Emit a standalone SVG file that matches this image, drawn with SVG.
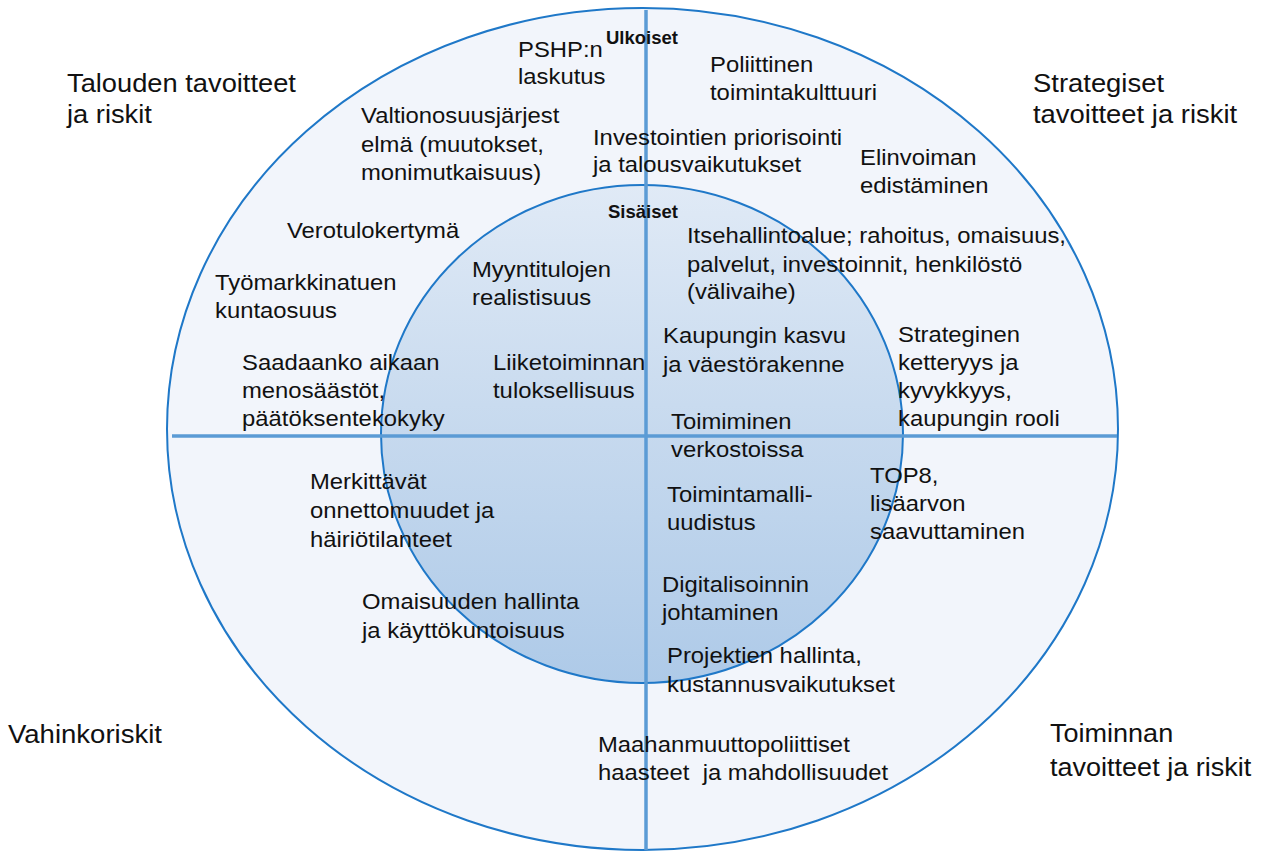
<svg xmlns="http://www.w3.org/2000/svg" width="1267" height="852" viewBox="0 0 1267 852">
<defs>
<linearGradient id="innerGrad" x1="0" y1="0" x2="0" y2="1">
<stop offset="0" stop-color="#e0eaf6"/>
<stop offset="0.5" stop-color="#c6d9ee"/>
<stop offset="1" stop-color="#aecae8"/>
</linearGradient>
<style>
.lbl{font-family:"Liberation Sans",Arial,sans-serif;font-size:22.5px;fill:#111;}
.corner{font-family:"Liberation Sans",Arial,sans-serif;font-size:25.5px;fill:#111;}
.hdr{font-family:"Liberation Sans",Arial,sans-serif;font-size:18.5px;font-weight:bold;fill:#111;}
.ring{stroke:#1f78c8;stroke-width:2;}
.axis{stroke:#5b9bd5;stroke-width:3.5;fill:none;}
</style>
</defs>
<rect width="1267" height="852" fill="#ffffff"/>
<g id="outer-ring"><ellipse class="ring" cx="642.5" cy="429" rx="475.5" ry="421" fill="#f2f5fb"/></g>
<g id="inner-ring"><ellipse class="ring" cx="642" cy="434" rx="261" ry="249" fill="url(#innerGrad)"/></g>
<g id="connectors">
<line class="axis" x1="646" y1="10" x2="646" y2="850"/>
<line class="axis" x1="172" y1="436" x2="1117" y2="436"/>
</g>

<g id="corner-talous" transform="translate(67,92) scale(1.07,1)"><text class="corner"><tspan x="0" y="0">Talouden tavoitteet</tspan><tspan x="0" y="31">ja riskit</tspan></text></g>
<g id="corner-strategiset" transform="translate(1033,92) scale(1.075,1)"><text class="corner"><tspan x="0" y="0">Strategiset</tspan><tspan x="0" y="31">tavoitteet ja riskit</tspan></text></g>
<g id="corner-vahinko" transform="translate(8,743) scale(1.08,1)"><text class="corner"><tspan x="0" y="0">Vahinkoriskit</tspan></text></g>
<g id="corner-toiminnan" transform="translate(1050,742) scale(1.06,1)"><text class="corner"><tspan x="0" y="0">Toiminnan</tspan><tspan x="0" y="34">tavoitteet ja riskit</tspan></text></g>

<g id="hdr-ulkoiset"><text class="hdr" x="606" y="44">Ulkoiset</text></g>
<g id="hdr-sisaiset"><text class="hdr" x="608" y="218">Sisäiset</text></g>

<g id="n-pshp" transform="translate(518,57) scale(1.06,1)"><text class="lbl"><tspan x="0" y="0">PSHP:n</tspan><tspan x="0" y="27">laskutus</tspan></text></g>
<g id="n-poliittinen" transform="translate(710,72) scale(1.06,1)"><text class="lbl"><tspan x="0" y="0">Poliittinen</tspan><tspan x="0" y="28">toimintakulttuuri</tspan></text></g>
<g id="n-valtionosuus" transform="translate(361,123) scale(1.06,1)"><text class="lbl"><tspan x="0" y="0">Valtionosuusjärjest</tspan><tspan x="0" y="29">elmä (muutokset,</tspan><tspan x="0" y="57">monimutkaisuus)</tspan></text></g>
<g id="n-investoinnit" transform="translate(593,145) scale(1.06,1)"><text class="lbl"><tspan x="0" y="0">Investointien priorisointi</tspan><tspan x="0" y="27">ja talousvaikutukset</tspan></text></g>
<g id="n-elinvoima" transform="translate(860,165) scale(1.06,1)"><text class="lbl"><tspan x="0" y="0">Elinvoiman</tspan><tspan x="0" y="28">edistäminen</tspan></text></g>
<g id="n-verotulo" transform="translate(287,238) scale(1.06,1)"><text class="lbl"><tspan x="0" y="0">Verotulokertymä</tspan></text></g>
<g id="n-tyomarkkina" transform="translate(215,290) scale(1.06,1)"><text class="lbl"><tspan x="0" y="0">Työmarkkinatuen</tspan><tspan x="0" y="28">kuntaosuus</tspan></text></g>
<g id="n-itsehallinto" transform="translate(687,243) scale(1.06,1)"><text class="lbl"><tspan x="0" y="0">Itsehallintoalue; rahoitus, omaisuus,</tspan><tspan x="0" y="29">palvelut, investoinnit, henkilöstö</tspan><tspan x="0" y="56">(välivaihe)</tspan></text></g>
<g id="n-myyntitulot" transform="translate(472,277) scale(1.06,1)"><text class="lbl"><tspan x="0" y="0">Myyntitulojen</tspan><tspan x="0" y="28">realistisuus</tspan></text></g>
<g id="n-kasvu" transform="translate(663,343) scale(1.06,1)"><text class="lbl"><tspan x="0" y="0">Kaupungin kasvu</tspan><tspan x="0" y="29">ja väestörakenne</tspan></text></g>
<g id="n-strateginen" transform="translate(898,342) scale(1.06,1)"><text class="lbl"><tspan x="0" y="0">Strateginen</tspan><tspan x="0" y="28">ketteryys ja</tspan><tspan x="0" y="56">kyvykkyys,</tspan><tspan x="0" y="84">kaupungin rooli</tspan></text></g>
<g id="n-saadaanko" transform="translate(242,370) scale(1.06,1)"><text class="lbl"><tspan x="0" y="0">Saadaanko aikaan</tspan><tspan x="0" y="28">menosäästöt,</tspan><tspan x="0" y="56">päätöksentekokyky</tspan></text></g>
<g id="n-liiketoiminta" transform="translate(493,370) scale(1.06,1)"><text class="lbl"><tspan x="0" y="0">Liiketoiminnan</tspan><tspan x="0" y="28">tuloksellisuus</tspan></text></g>
<g id="n-toimiminen" transform="translate(671,429) scale(1.06,1)"><text class="lbl"><tspan x="0" y="0">Toimiminen</tspan><tspan x="0" y="28">verkostoissa</tspan></text></g>
<g id="n-top8" transform="translate(870,483) scale(1.06,1)"><text class="lbl"><tspan x="0" y="0">TOP8,</tspan><tspan x="0" y="28">lisäarvon</tspan><tspan x="0" y="56">saavuttaminen</tspan></text></g>
<g id="n-merkittavat" transform="translate(310,489) scale(1.06,1)"><text class="lbl"><tspan x="0" y="0">Merkittävät</tspan><tspan x="0" y="29">onnettomuudet ja</tspan><tspan x="0" y="58">häiriötilanteet</tspan></text></g>
<g id="n-toimintamalli" transform="translate(667,502) scale(1.06,1)"><text class="lbl"><tspan x="0" y="0">Toimintamalli-</tspan><tspan x="0" y="28">uudistus</tspan></text></g>
<g id="n-digitalisointi" transform="translate(662,592) scale(1.06,1)"><text class="lbl"><tspan x="0" y="0">Digitalisoinnin</tspan><tspan x="0" y="28">johtaminen</tspan></text></g>
<g id="n-omaisuus" transform="translate(362,609) scale(1.06,1)"><text class="lbl"><tspan x="0" y="0">Omaisuuden hallinta</tspan><tspan x="0" y="29">ja käyttökuntoisuus</tspan></text></g>
<g id="n-projektit" transform="translate(667,663) scale(1.06,1)"><text class="lbl"><tspan x="0" y="0">Projektien hallinta,</tspan><tspan x="0" y="29">kustannusvaikutukset</tspan></text></g>
<g id="n-maahanmuutto" transform="translate(598,752) scale(1.06,1)"><text class="lbl" xml:space="preserve"><tspan x="0" y="0">Maahanmuuttopoliittiset</tspan><tspan x="0" y="28">haasteet  ja mahdollisuudet</tspan></text></g>
</svg>
